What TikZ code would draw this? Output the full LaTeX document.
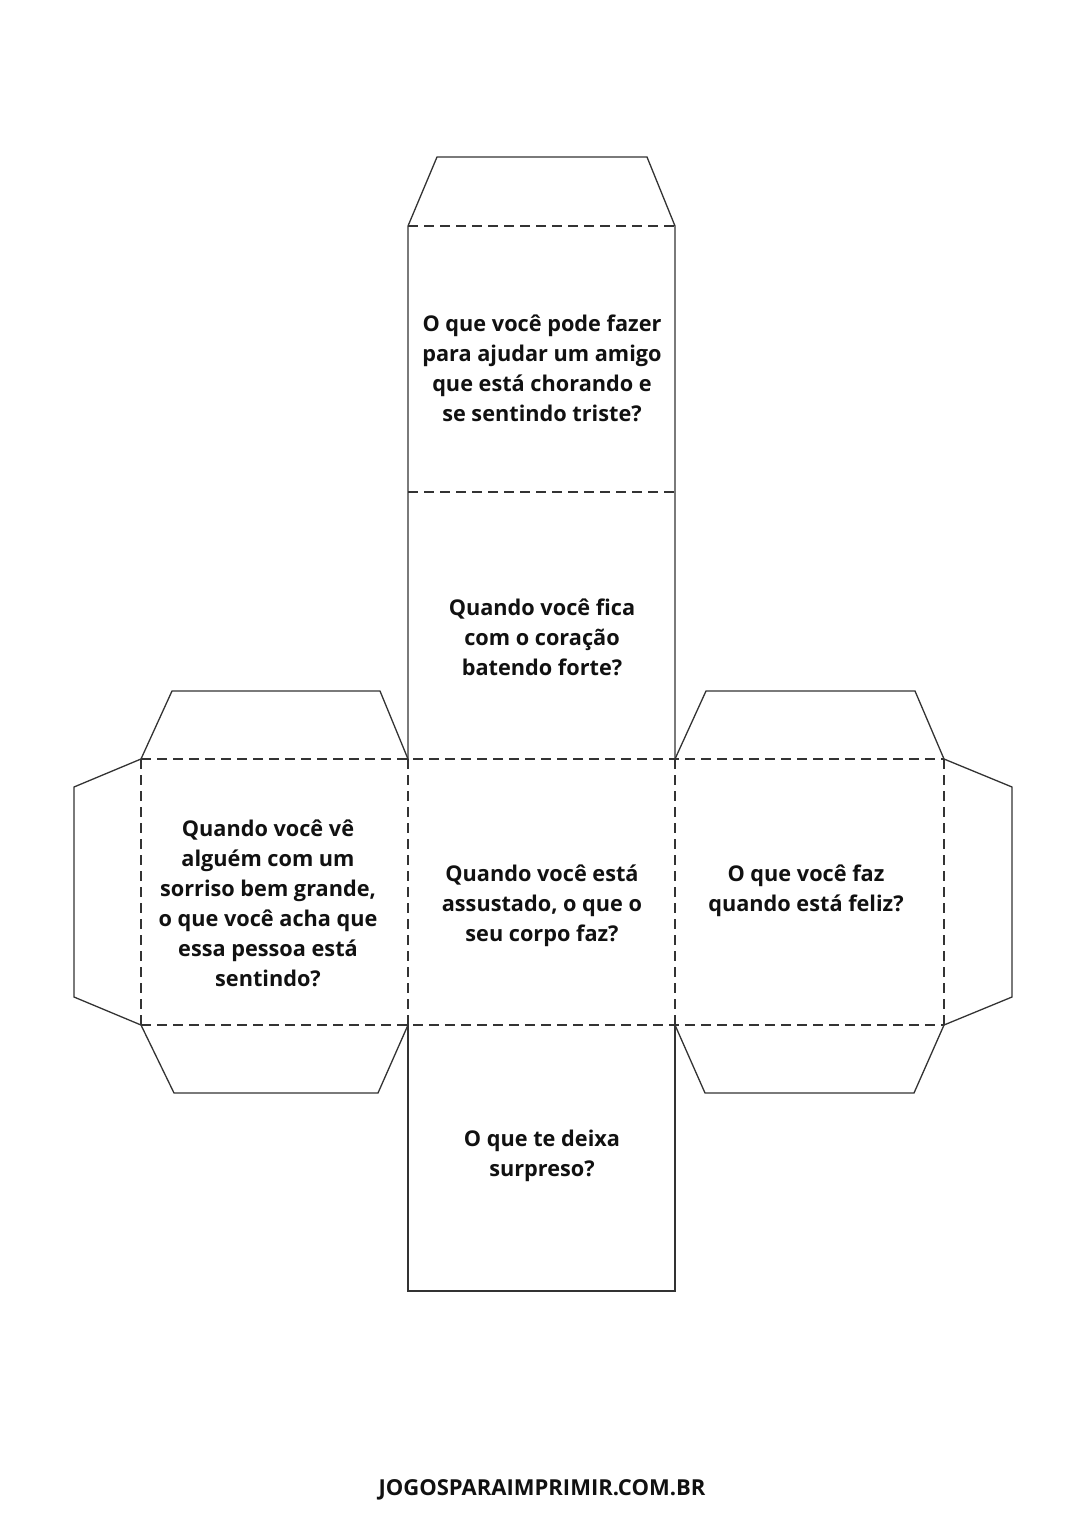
\documentclass[tikz,border=0pt]{standalone}
\usepackage{fontspec}
\setmainfont{Open Sans}
\definecolor{linecol}{HTML}{333333}
\definecolor{txtcol}{HTML}{111111}
\begin{document}
\begin{tikzpicture}[x=1pt,y=-1pt,
  cut/.style={draw=linecol, line width=1.3pt, line join=miter},
  fold/.style={draw=linecol, line width=2.4pt, dash pattern=on 10pt off 6pt},
  question/.style={font=\bfseries\fontsize{21.7}{30}\selectfont, align=center, text=txtcol, inner sep=0pt},
  footer/.style={font=\bfseries\fontsize{22}{26}\selectfont, text=txtcol, inner sep=0pt}]
\useasboundingbox (0,0) rectangle (1086,1536);
% cut lines
\draw[cut] (408,759) -- (408,226) -- (437,157) -- (647,157) -- (675,226) -- (675,759);
\draw[cut] (408,1025) -- (408,1291) -- (675,1291) -- (675,1025);
\draw[cut] (141,759) -- (172,691) -- (380,691) -- (408,759);
\draw[cut] (141,1025) -- (174,1093) -- (378,1093) -- (408,1025);
\draw[cut] (141,759) -- (74,787) -- (74,997) -- (141,1025);
\draw[cut] (675,759) -- (706,691) -- (915,691) -- (944,759);
\draw[cut] (675,1025) -- (705,1093) -- (914,1093) -- (944,1025);
\draw[cut] (944,759) -- (1012,787) -- (1012,997) -- (944,1025);
% fold lines
\draw[fold] (408,226) -- (675,226);
\draw[fold] (408,492) -- (675,492);
\draw[fold] (141,759) -- (944,759);
\draw[fold] (141,1025) -- (944,1025);
\draw[fold] (141,759) -- (141,1025);
\draw[fold] (408,759) -- (408,1025);
\draw[fold] (675,759) -- (675,1025);
\draw[fold] (944,759) -- (944,1025);
% texts
\node[question] (q1) at (542,368) {O que você pode fazer\\para ajudar um amigo\\que está chorando e\\se sentindo triste?};
\node[question] (q2) at (542,637) {Quando você fica\\com o coração\\batendo forte?};
\node[question] (q3) at (542,906) {Quando você está\\assustado, o que o\\seu corpo faz?};
\node[question] (q4) at (268,903) {Quando você vê\\alguém com um\\sorriso bem grande,\\o que você acha que\\essa pessoa está\\sentindo?};
\node[question] (q5) at (806,891) {O que você faz\\quando está feliz?};
\node[question] (q6) at (542,1156) {O que te deixa\\surpreso?};
\node[footer] (site) at (542,1490) {JOGOSPARAIMPRIMIR.COM.BR};
\end{tikzpicture}
\end{document}
